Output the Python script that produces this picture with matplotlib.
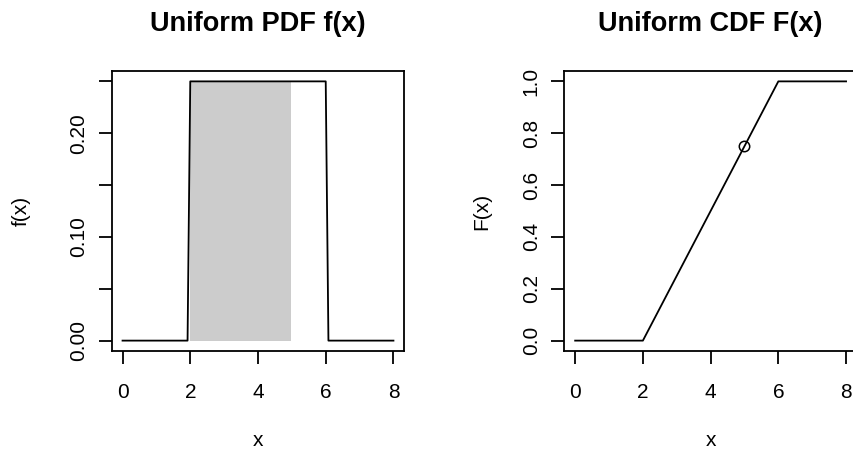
import numpy as np
import matplotlib
matplotlib.use("Agg")
import matplotlib.pyplot as plt

plt.rcParams['font.family'] = ['Liberation Sans', 'DejaVu Sans']

# uniform(2, 6) density, traced on a 0.08 grid
pdf_x = [0.0, 1.92, 2.0, 6.0, 6.08, 8.0]
pdf_y = [0.0, 0.0, 0.25, 0.25, 0.0, 0.0]

# shaded probability P(2 <= X <= 5)
shade_x = [2.0, 4.96]
shade_y = [0.25, 0.25]

# cumulative distribution
cdf_x = [0.0, 2.0, 6.0, 8.0]
cdf_y = [0.0, 0.0, 1.0, 1.0]

# marked point F(5)
pt_x = 5.0
pt_y = 0.75

x_ticks = [0, 2, 4, 6, 8]
pdf_ticks = [0.0, 0.05, 0.10, 0.15, 0.20, 0.25]
pdf_ticklabels = ['0.00', '', '0.10', '', '0.20', '']
cdf_ticks = [0.0, 0.2, 0.4, 0.6, 0.8, 1.0]
cdf_ticklabels = ['0.0', '0.2', '0.4', '0.6', '0.8', '1.0']

fig = plt.figure(figsize=(8.54, 4.54), dpi=100)
ax1 = fig.add_axes([0.1308, 0.2269, 0.3426, 0.6167])
ax2 = fig.add_axes([0.6608, 0.2269, 0.3426, 0.6167])

LW = 1.3
TICK_FS = 15
TITLE_FS = 19.5


def style_axes(ax, yticks, yticklabels, ylabel, title, ypad):
    for sp in ax.spines.values():
        sp.set_linewidth(LW)
        sp.set_color('black')
    ax.set_xlim(-0.32, 8.32)
    ax.set_xticks(x_ticks)
    ax.set_xticklabels([str(t) for t in x_ticks])
    ax.set_yticks(yticks)
    ax.set_yticklabels(yticklabels, rotation=90, va='center')
    ax.tick_params(axis='both', direction='out', length=9.4, width=LW,
                   labelsize=TICK_FS, colors='black')
    ax.tick_params(axis='x', pad=13.5)
    ax.tick_params(axis='y', pad=7.5)
    ax.set_xlabel('x', fontsize=TICK_FS, labelpad=21)
    ax.set_ylabel(ylabel, fontsize=TICK_FS, labelpad=ypad)
    ax.set_title(title, fontsize=TITLE_FS, fontweight='bold', pad=29)


# left: density with shaded area
ax1.fill_between(shade_x, 0, shade_y, color='#cccccc', linewidth=0, zorder=1)
ax1.plot(pdf_x, pdf_y, color='black', lw=LW, zorder=2)
ax1.set_ylim(-0.01, 0.26)
style_axes(ax1, pdf_ticks, pdf_ticklabels, 'f(x)', 'Uniform PDF f(x)', 28)

# right: distribution function with marked point
ax2.plot(cdf_x, cdf_y, color='black', lw=LW)
ax2.plot([pt_x], [pt_y], 'o', mfc='none', mec='black', ms=7.5, mew=1.1)
ax2.set_ylim(-0.04, 1.04)
style_axes(ax2, cdf_ticks, cdf_ticklabels, 'F(x)', 'Uniform CDF F(x)', 22)

fig.savefig('out.png', dpi=100)
